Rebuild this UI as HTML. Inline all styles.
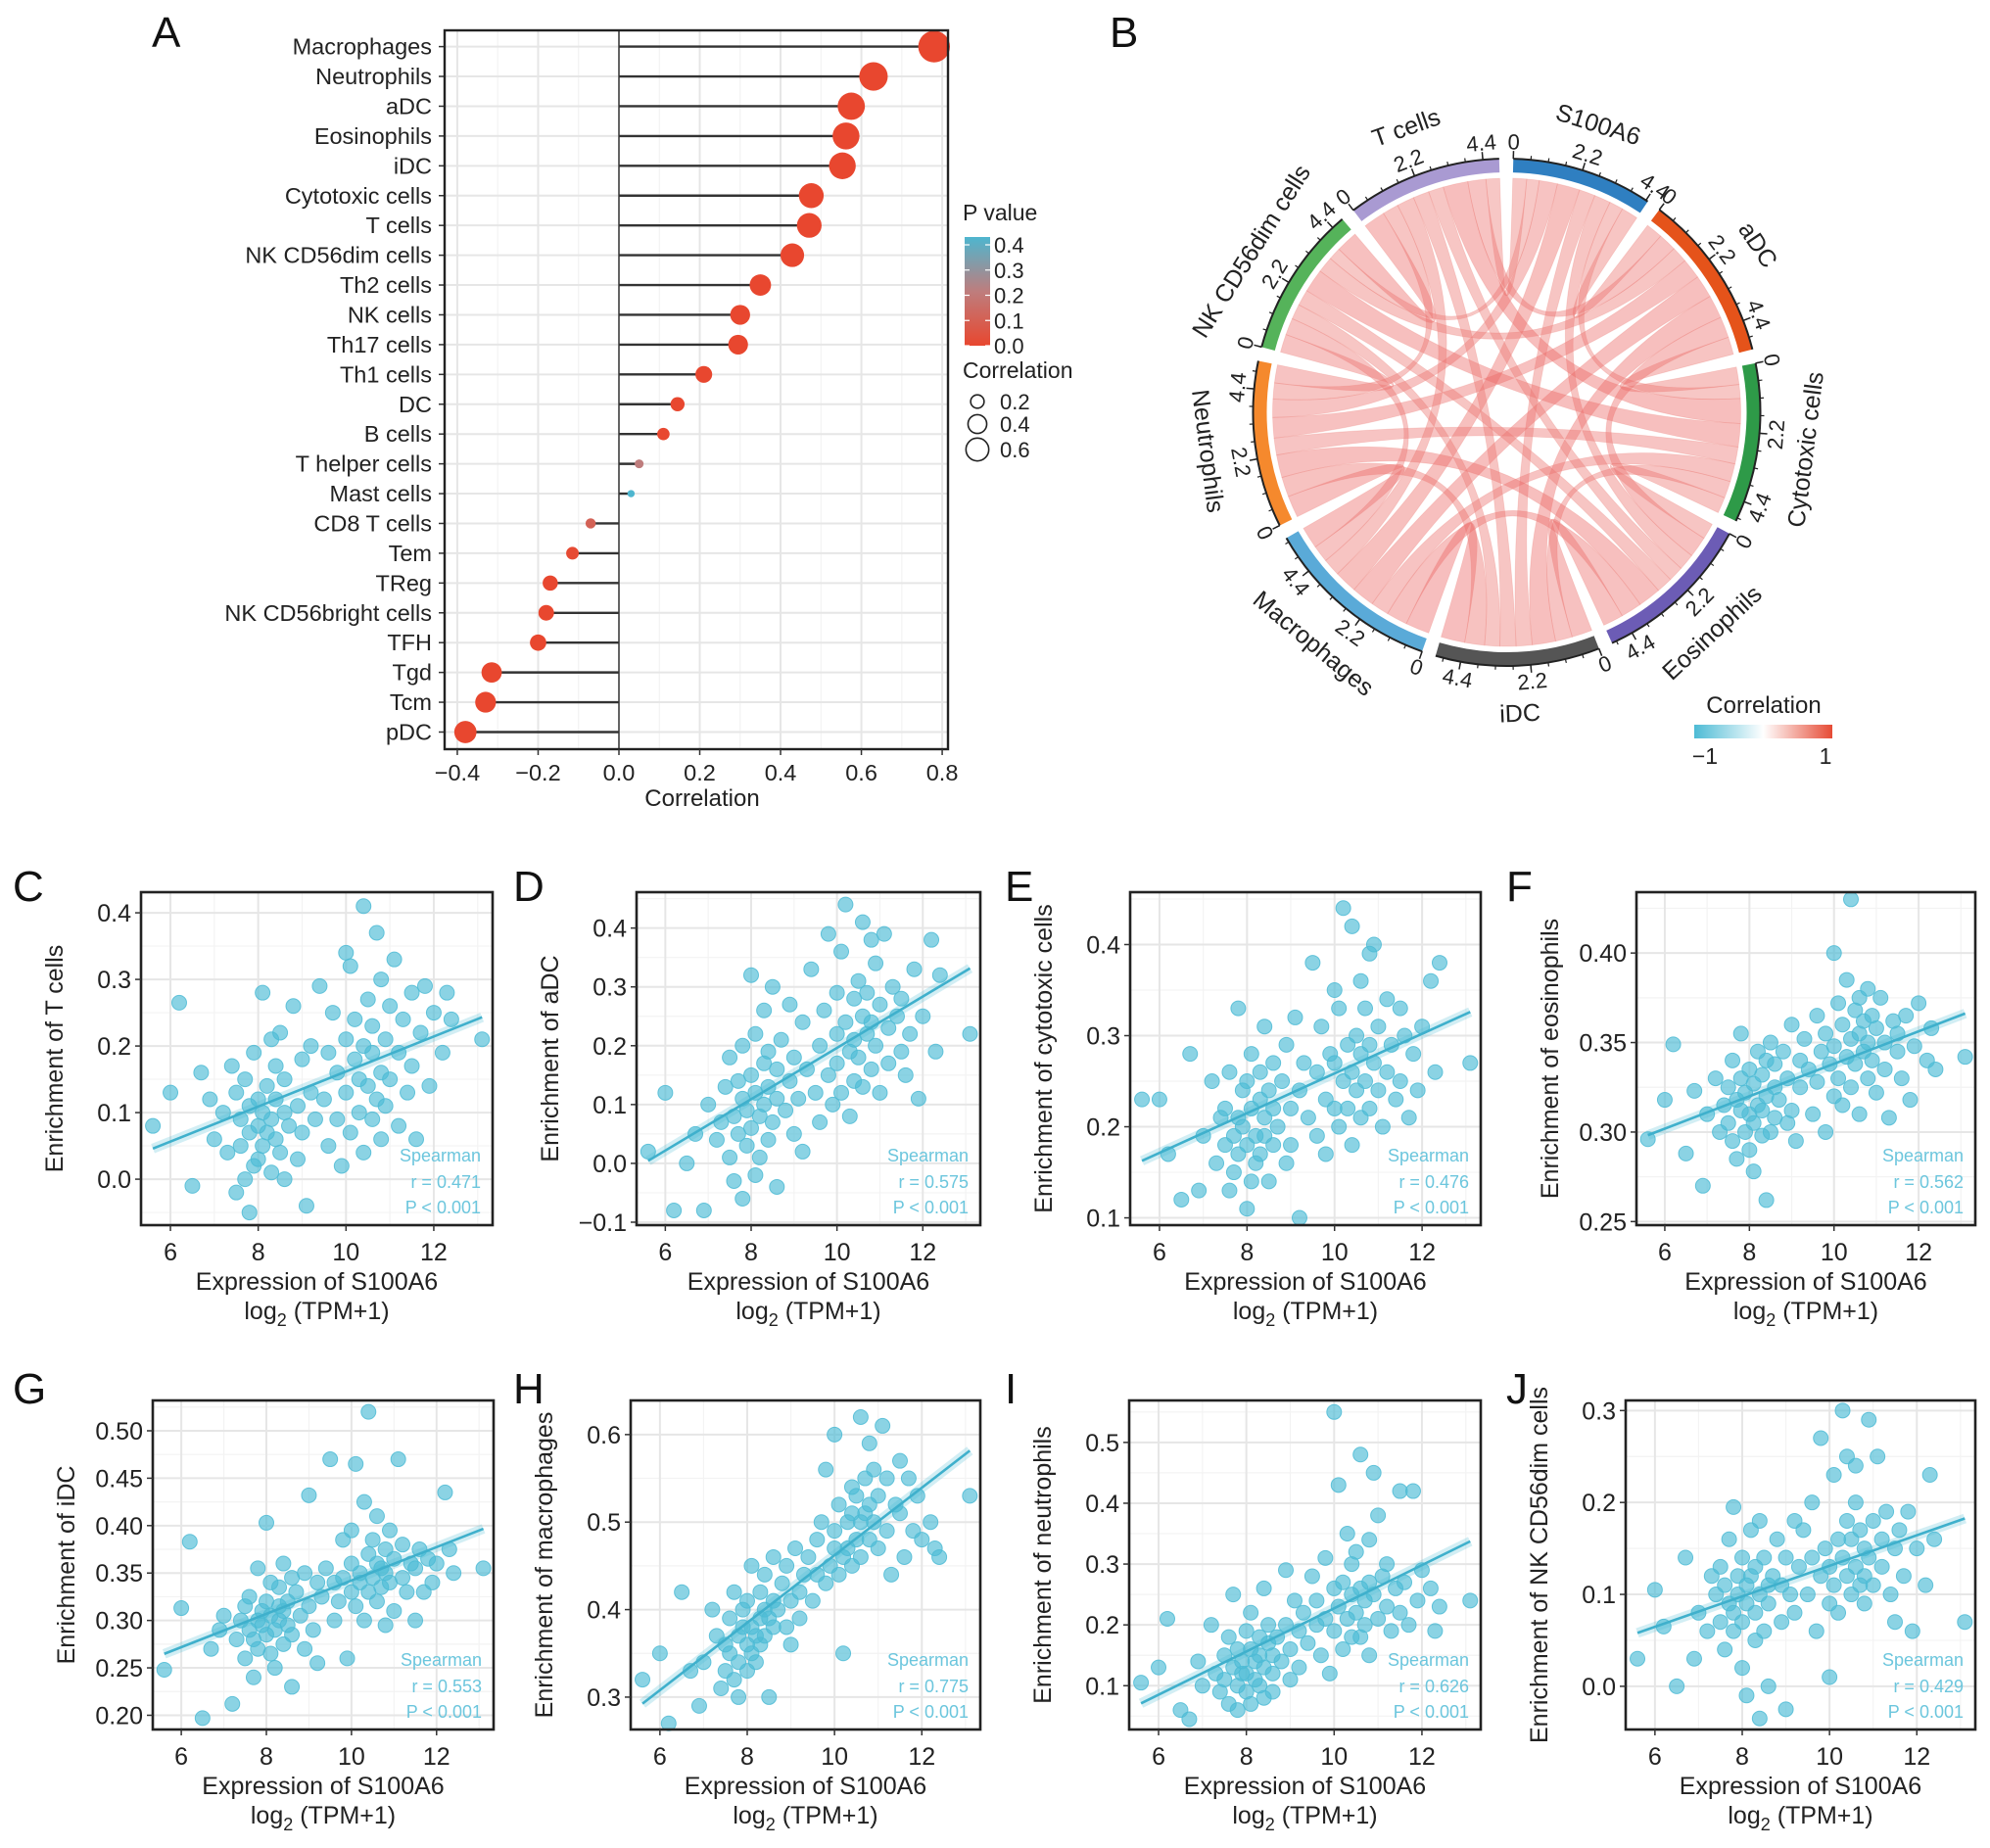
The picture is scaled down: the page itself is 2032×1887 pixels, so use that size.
<!DOCTYPE html>
<html><head><meta charset="utf-8"><style>
html,body{margin:0;padding:0;background:#fff;}
svg{display:block;font-family:"Liberation Sans",Arial,sans-serif;}
</style></head><body>
<svg id="fig" width="2032" height="1887" viewBox="0 0 2032 1887" xmlns="http://www.w3.org/2000/svg">
<rect x="0" y="0" width="2032" height="1887" fill="#fff"/>
<text x="155" y="48" font-size="44" fill="#111">A</text>
<text x="1133" y="48" font-size="44" fill="#111">B</text>
<g id="panelA"></g>
<g id="panelB"></g>
<g id="scatters"></g>
</svg>
<script>
// ===== Panel A data =====
const cellTypes = ["Macrophages","Neutrophils","aDC","Eosinophils","iDC","Cytotoxic cells","T cells","NK CD56dim cells","Th2 cells","NK cells","Th17 cells","Th1 cells","DC","B cells","T helper cells","Mast cells","CD8 T cells","Tem","TReg","NK CD56bright cells","TFH","Tgd","Tcm","pDC"];
const corrValues = [0.78,0.63,0.575,0.562,0.553,0.476,0.471,0.429,0.35,0.30,0.295,0.21,0.145,0.11,0.05,0.03,-0.07,-0.115,-0.17,-0.18,-0.20,-0.315,-0.33,-0.38];
const pValues = [0,0,0,0,0,0,0,0,0,0,0,0,0,0.002,0.2,0.4,0.1,0.01,0,0,0,0,0,0];
const corrTicks = [-0.4,-0.2,0.0,0.2,0.4,0.6,0.8];
const pTicks = [0.4,0.3,0.2,0.1,0.0];
const sizeLegend = [0.2,0.4,0.6];

// ===== Panel B data =====
const sectors = ["S100A6","aDC","Cytotoxic cells","Eosinophils","iDC","Macrophages","Neutrophils","NK CD56dim cells","T cells"];
const sectorColors = ["#2f7fc1","#e5531a","#2e9a48","#6c5cb5","#555555","#5aaad8","#f5892d","#55b35a","#a99ad2"];
const pairCorr = [
 0.575,0.476,0.562,0.553,0.775,0.626,0.429,0.471,
 0.60,0.72,0.80,0.78,0.70,0.55,0.62,
 0.55,0.58,0.62,0.58,0.80,0.85,
 0.70,0.72,0.78,0.55,0.52,
 0.82,0.68,0.52,0.55,
 0.75,0.58,0.60,
 0.62,0.55,
 0.75];
const sectorTicks = [0,2.2,4.4];

// ===== Scatter data =====
const exprS100A6 = [5.6,6.0,6.2,6.5,6.7,6.9,7.0,7.2,7.3,7.4, 7.5,7.5,7.6,7.6,7.7,7.7,7.8,7.8,7.8,7.9, 7.9,8.0,8.0,8.0,8.1,8.1,8.1,8.2,8.2,8.3, 8.3,8.3,8.4,8.4,8.4,8.5,8.5,8.6,8.6,8.6, 8.7,8.8,8.9,8.9,9.0,9.0,9.1,9.2,9.2,9.3, 9.4,9.5,9.6,9.6,9.7,9.8,9.8,9.9,10.0,10.0, 10.0,10.1,10.1,10.2,10.2,10.3,10.3,10.4,10.4,10.4, 10.5,10.5,10.6,10.6,10.6,10.7,10.7,10.8,10.8,10.8, 10.9,10.9,11.0,11.0,11.1,11.2,11.2,11.3,11.4,11.5, 11.5,11.6,11.7,11.8,11.9,12.0,12.2,12.3,12.4,13.1];
const enrichTcells = [0.08,0.13,0.265,-0.01,0.16,0.12,0.06,0.10,0.04,0.17, 0.13,-0.02,0.09,0.05,0.15,0.00,0.11,0.07,-0.05,0.02, 0.19,0.08,0.12,0.03,0.28,0.10,0.05,0.14,0.07,0.21, 0.01,0.09,0.17,0.06,0.12,0.04,0.22,0.10,0.00,0.15, 0.08,0.26,0.11,0.03,0.18,0.07,-0.04,0.13,0.20,0.09, 0.29,0.12,0.05,0.19,0.25,0.09,0.16,0.02,0.34,0.21, 0.13,0.32,0.07,0.18,0.24,0.10,0.15,0.41,0.04,0.20, 0.14,0.27,0.09,0.19,0.23,0.12,0.37,0.16,0.06,0.30, 0.21,0.11,0.26,0.15,0.33,0.08,0.19,0.24,0.13,0.28, 0.17,0.06,0.22,0.29,0.14,0.25,0.19,0.28,0.24,0.21];
const enrichADC = [0.02,0.12,-0.08,0.00,0.05,-0.08,0.10,0.04,0.07,0.13, 0.01,0.18,0.08,-0.03,0.14,0.05,0.11,-0.06,0.20,0.03, 0.09,0.32,0.06,0.15,-0.02,0.12,0.22,0.08,0.01,0.17, 0.10,0.26,0.04,0.13,0.19,0.07,0.30,0.11,-0.04,0.16, 0.21,0.09,0.14,0.27,0.05,0.18,0.11,0.24,0.02,0.16, 0.33,0.12,0.20,0.07,0.26,0.15,0.39,0.10,0.22,0.29, 0.17,0.36,0.12,0.24,0.44,0.19,0.08,0.28,0.21,0.14, 0.31,0.18,0.25,0.41,0.13,0.22,0.29,0.16,0.38,0.24, 0.20,0.34,0.27,0.12,0.39,0.23,0.17,0.30,0.25,0.19, 0.28,0.15,0.22,0.33,0.11,0.25,0.38,0.19,0.32,0.22];
const enrichCytotoxic = [0.23,0.23,0.17,0.12,0.28,0.13,0.19,0.25,0.16,0.21, 0.18,0.22,0.13,0.26,0.19,0.15,0.21,0.33,0.17,0.24, 0.20,0.11,0.25,0.18,0.22,0.14,0.28,0.19,0.16,0.23, 0.26,0.17,0.21,0.31,0.19,0.24,0.14,0.22,0.27,0.18, 0.20,0.25,0.16,0.29,0.22,0.18,0.32,0.24,0.10,0.27, 0.21,0.38,0.26,0.19,0.31,0.23,0.17,0.28,0.35,0.22, 0.27,0.20,0.33,0.25,0.44,0.29,0.22,0.42,0.26,0.18, 0.30,0.24,0.36,0.21,0.28,0.33,0.25,0.39,0.22,0.29, 0.27,0.40,0.24,0.31,0.20,0.34,0.26,0.29,0.23,0.33, 0.25,0.30,0.21,0.28,0.24,0.31,0.36,0.26,0.38,0.27];
const enrichEosinophils = [0.296,0.318,0.349,0.288,0.323,0.270,0.310,0.330,0.300,0.315, 0.325,0.305,0.340,0.295,0.318,0.285,0.330,0.312,0.355,0.300, 0.322,0.290,0.335,0.310,0.278,0.327,0.305,0.345,0.315,0.298, 0.332,0.312,0.262,0.340,0.320,0.300,0.350,0.325,0.308,0.338, 0.318,0.345,0.305,0.330,0.360,0.312,0.295,0.340,0.325,0.352, 0.335,0.310,0.365,0.328,0.345,0.300,0.355,0.338,0.400,0.320, 0.348,0.372,0.330,0.360,0.315,0.385,0.342,0.352,0.430,0.325, 0.368,0.338,0.355,0.310,0.375,0.345,0.362,0.330,0.380,0.350, 0.340,0.365,0.322,0.358,0.375,0.335,0.350,0.308,0.362,0.345, 0.355,0.330,0.365,0.318,0.348,0.372,0.340,0.358,0.335,0.342];
const enrichIDC = [0.248,0.313,0.383,0.197,0.270,0.290,0.305,0.212,0.280,0.300, 0.260,0.315,0.290,0.325,0.280,0.240,0.300,0.355,0.270,0.310, 0.295,0.403,0.285,0.320,0.265,0.305,0.340,0.290,0.250,0.315, 0.300,0.335,0.275,0.310,0.360,0.295,0.320,0.230,0.345,0.285, 0.330,0.305,0.350,0.270,0.432,0.315,0.290,0.340,0.255,0.325, 0.355,0.470,0.300,0.340,0.320,0.385,0.345,0.260,0.330,0.395, 0.360,0.315,0.465,0.340,0.350,0.300,0.425,0.370,0.330,0.520, 0.345,0.385,0.320,0.360,0.410,0.335,0.355,0.295,0.375,0.350, 0.340,0.395,0.365,0.310,0.470,0.345,0.380,0.330,0.360,0.300, 0.355,0.375,0.330,0.365,0.340,0.360,0.435,0.375,0.350,0.355];
const enrichMacrophages = [0.32,0.35,0.27,0.42,0.33,0.29,0.34,0.40,0.37,0.31, 0.36,0.33,0.39,0.35,0.42,0.32,0.37,0.34,0.30,0.38, 0.40,0.36,0.33,0.41,0.38,0.35,0.45,0.37,0.34,0.39, 0.42,0.36,0.40,0.37,0.44,0.39,0.30,0.41,0.38,0.46, 0.40,0.43,0.38,0.45,0.41,0.36,0.47,0.42,0.39,0.44, 0.46,0.41,0.48,0.44,0.50,0.43,0.56,0.45,0.60,0.47, 0.49,0.44,0.52,0.46,0.35,0.50,0.47,0.54,0.45,0.51, 0.53,0.48,0.50,0.62,0.46,0.55,0.51,0.59,0.48,0.52, 0.50,0.56,0.47,0.53,0.61,0.49,0.55,0.44,0.52,0.57, 0.51,0.46,0.55,0.49,0.53,0.48,0.50,0.47,0.46,0.53];
const enrichNeutrophils = [0.105,0.13,0.21,0.06,0.045,0.14,0.10,0.20,0.12,0.09, 0.15,0.11,0.18,0.07,0.13,0.25,0.10,0.16,0.06,0.12, 0.14,0.09,0.19,0.12,0.07,0.16,0.22,0.11,0.14,0.18, 0.10,0.15,0.26,0.13,0.08,0.17,0.20,0.12,0.15,0.09, 0.18,0.14,0.29,0.20,0.11,0.16,0.24,0.13,0.19,0.22, 0.17,0.28,0.20,0.24,0.15,0.31,0.21,0.12,0.55,0.26, 0.19,0.43,0.23,0.16,0.27,0.21,0.35,0.18,0.25,0.30, 0.22,0.32,0.18,0.26,0.48,0.24,0.20,0.34,0.27,0.15, 0.25,0.45,0.21,0.38,0.28,0.23,0.30,0.19,0.26,0.42, 0.22,0.27,0.20,0.42,0.24,0.29,0.26,0.19,0.23,0.24];
const enrichNKdim = [0.03,0.105,0.065,0.00,0.14,0.03,0.08,0.06,0.12,0.10, 0.07,0.13,0.04,0.11,0.09,0.16,0.06,0.195,0.08,0.12, 0.10,0.02,0.14,0.07,0.11,-0.01,0.09,0.17,0.12,0.05, 0.13,0.08,0.18,0.10,-0.035,0.06,0.14,0.11,0.00,0.09, 0.12,0.16,0.07,0.11,-0.025,0.14,0.10,0.18,0.08,0.13, 0.17,0.10,0.14,0.20,0.06,0.12,0.27,0.15,0.09,0.01, 0.13,0.23,0.11,0.16,0.08,0.30,0.14,0.12,0.25,0.18, 0.10,0.16,0.20,0.13,0.24,0.11,0.17,0.09,0.15,0.12, 0.14,0.29,0.18,0.11,0.25,0.16,0.13,0.19,0.10,0.15, 0.07,0.17,0.12,0.19,0.06,0.15,0.11,0.23,0.16,0.07];
const spearmanR = ["0.471","0.575","0.476","0.562","0.553","0.775","0.626","0.429"];
const xTicksScatter = [6,8,10,12];

const NS = "http://www.w3.org/2000/svg";
function mk(parent, tag, attrs, txt){
  const e = document.createElementNS(NS, tag);
  for (const k in attrs) e.setAttribute(k, attrs[k]);
  if (txt !== undefined) e.textContent = txt;
  parent.appendChild(e);
  return e;
}
function fmtMinus(v, d){ const s = Math.abs(v).toFixed(d); return (v < -1e-9 ? "\u2212" : "") + s; }

// ================= Panel A =================
(function(){
  const g = document.getElementById("panelA");
  const L = 454, R = 968, T = 31, B = 765;
  const x0 = 632, pxPerUnit = 412.6;
  const xs = v => x0 + v * pxPerUnit;
  const rowY = i => 47.6 + i * 30.43;
  const rad = c => Math.sqrt(4 + 330 * Math.abs(c));
  function pColor(p){
    const t = Math.max(0, Math.min(1, p / 0.4));
    const a = [232,71,47], m = [190,125,125], b = [78,182,207];
    let c;
    if (t < 0.5){ const u = t/0.5; c = a.map((v,k)=>Math.round(v+(m[k]-v)*u)); }
    else { const u = (t-0.5)/0.5; c = m.map((v,k)=>Math.round(v+(b[k]-v)*u)); }
    return "rgb(" + c.join(",") + ")";
  }
  mk(g, "rect", {x:L, y:T, width:R-L, height:B-T, fill:"#fff"});
  for (let v = -0.3; v <= 0.75; v += 0.2){
    const gl = mk(g, "line", {x1:xs(v), x2:xs(v), y1:T, y2:B, stroke:"#f3f3f3", "stroke-width":1.2});
    
    
  }
  corrTicks.forEach(v => {
    const gl = mk(g, "line", {x1:xs(v), x2:xs(v), y1:T, y2:B, stroke:"#e6e6e6", "stroke-width":2});
    
    
  });
  cellTypes.forEach((n,i) => {
    const gl = mk(g, "line", {x1:L, x2:R, y1:rowY(i), y2:rowY(i), stroke:"#e6e6e6", "stroke-width":2});
    
    
  });
  mk(g, "line", {x1:xs(0), x2:xs(0), y1:T, y2:B, stroke:"#444", "stroke-width":1.6});
  cellTypes.forEach((n,i) => {
    const c = corrValues[i], y = rowY(i);
    const seg = mk(g, "line", {x1:xs(0), x2:xs(c), y1:y, y2:y, stroke:"#333", "stroke-width":2.4});
    
    
    const dot = mk(g, "circle", {cx:xs(c), cy:y, r:rad(c), fill:pColor(pValues[i])});
    
    
    const lab = mk(g, "text", {x:L-13, y:y+8, "text-anchor":"end", "font-size":23.5, fill:"#222"}, n);
    
    
    mk(g, "line", {x1:L-6, x2:L, y1:y, y2:y, stroke:"#333", "stroke-width":1.5});
  });
  mk(g, "rect", {x:L, y:T, width:R-L, height:B-T, fill:"none", stroke:"#222", "stroke-width":2.4});
  corrTicks.forEach(v => {
    mk(g, "line", {x1:xs(v), x2:xs(v), y1:B, y2:B+6, stroke:"#333", "stroke-width":1.5});
    const t = mk(g, "text", {x:xs(v), y:B+32, "text-anchor":"middle", "font-size":23.5, fill:"#222"}, fmtMinus(v,1));
    
    
  });
  const xt = mk(g, "text", {x:717, y:823, "text-anchor":"middle", "font-size":24, fill:"#222"}, "Correlation");
  
  

  const lt = mk(g, "text", {x:983, y:225, "font-size":23, fill:"#222"}, "P value");
  
  
  const defs = mk(g, "defs", {});
  const gr = mk(defs, "linearGradient", {id:"pgrad", x1:0, y1:1, x2:0, y2:0});
  mk(gr, "stop", {offset:"0", "stop-color":"rgb(232,71,47)"});
  mk(gr, "stop", {offset:"0.5", "stop-color":"rgb(190,125,125)"});
  mk(gr, "stop", {offset:"1", "stop-color":"rgb(78,182,207)"});
  const cb = mk(g, "rect", {x:985, y:242, width:26, height:111, fill:"url(#pgrad)"});
  
  
  pTicks.forEach(p => {
    const y = 353 - (p/0.4)*103;
    mk(g, "line", {x1:985, x2:990, y1:y, y2:y, stroke:"#fff", "stroke-width":1.2});
    mk(g, "line", {x1:1006, x2:1011, y1:y, y2:y, stroke:"#fff", "stroke-width":1.2});
    const t = mk(g, "text", {x:1015, y:y+8, "font-size":22, fill:"#222"}, p.toFixed(1));
    
    
  });
  const ct = mk(g, "text", {x:983, y:386, "font-size":23, fill:"#222"}, "Correlation");
  
  
  sizeLegend.forEach((c,k) => {
    const y = [410, 433, 459][k];
    const circ = mk(g, "circle", {cx:998, cy:y, r:rad(c)*0.82, fill:"none", stroke:"#222", "stroke-width":1.6});
    
    
    const t = mk(g, "text", {x:1021, y:y+8, "font-size":22, fill:"#222"}, c.toFixed(1));
    
    
  });
})();

// ================= Panel B: chord =================
(function(){
  const g = document.getElementById("panelB");
  const cx = 1538.5, cy = 421;
  const rOut = 259, rIn = 245, rChord = 239;
  const n = sectors.length;
  const M = Array.from({length:n}, () => new Array(n).fill(0));
  let k = 0;
  for (let i = 0; i < n; i++) for (let j = i+1; j < n; j++){ M[i][j] = M[j][i] = pairCorr[k++]; }
  const totals = M.map(r => r.reduce((a,b)=>a+b,0));
  const gapDeg = 3.2;
  const sumT = totals.reduce((a,b)=>a+b,0);
  const dpu = (360 - gapDeg*n) / sumT;
  const starts = []; let a = 1.5;
  for (let i = 0; i < n; i++){ starts.push(a); a += totals[i]*dpu + gapDeg; }
  const pt = (deg, r) => { const t = deg*Math.PI/180; return [cx + r*Math.sin(t), cy - r*Math.cos(t)]; };
  const slot = {};
  for (let i = 0; i < n; i++){
    let pos = starts[i];
    for (let s = 1; s < n; s++){
      const j = (i - s + n) % n;
      const w = M[i][j]*dpu;
      slot[i+"_"+j] = [pos, pos + w];
      pos += w;
    }
  }
  const cg = mk(g, "g", {});
  for (let i = 0; i < n; i++) for (let j = i+1; j < n; j++){
    const [a1,a2] = slot[i+"_"+j], [b1,b2] = slot[j+"_"+i];
    const p1 = pt(a1,rChord), p2 = pt(a2,rChord), q1 = pt(b1,rChord), q2 = pt(b2,rChord);
    const d = `M${p1[0]},${p1[1]} A${rChord},${rChord} 0 0 1 ${p2[0]},${p2[1]} Q${cx},${cy} ${q1[0]},${q1[1]} A${rChord},${rChord} 0 0 1 ${q2[0]},${q2[1]} Q${cx},${cy} ${p1[0]},${p1[1]} Z`;
    const v = M[i][j];
    const ribbon = mk(cg, "path", {d:d, fill:"rgb(236,"+Math.round(150-60*v)+","+Math.round(140-50*v)+")", "fill-opacity":0.42, stroke:"rgb(236,120,110)", "stroke-opacity":0.25, "stroke-width":0.8});
    
    
  }
  function arcBand(s, e, r1, r2){
    const A = pt(s,r2), B = pt(e,r2), C = pt(e,r1), D = pt(s,r1);
    const large = (e - s) > 180 ? 1 : 0;
    return `M${A[0]},${A[1]} A${r2},${r2} 0 ${large} 1 ${B[0]},${B[1]} L${C[0]},${C[1]} A${r1},${r1} 0 ${large} 0 ${D[0]},${D[1]} Z`;
  }
  function rotFor(deg){ const m = ((deg % 360) + 360) % 360; return (m > 90 && m < 270) ? m - 180 : m; }
  for (let i = 0; i < n; i++){
    const s = starts[i], e = s + totals[i]*dpu;
    const band = mk(g, "path", {d:arcBand(s,e,rIn,rOut), fill:sectorColors[i]});
    
    
    const A = pt(s,rOut), B = pt(e,rOut);
    mk(g, "path", {d:`M${A[0]},${A[1]} A${rOut},${rOut} 0 0 1 ${B[0]},${B[1]}`, fill:"none", stroke:"#222", "stroke-width":2});
    for (let v = 0; v <= totals[i] + 1e-6; v += 0.55){
      const ang = s + v*dpu; const p = pt(ang,rOut), q = pt(ang,rOut+4);
      mk(g, "line", {x1:p[0], y1:p[1], x2:q[0], y2:q[1], stroke:"#222", "stroke-width":1.2});
    }
    sectorTicks.forEach(v => {
      const ang = s + v*dpu;
      const p = pt(ang,rOut), q = pt(ang,rOut+8);
      mk(g, "line", {x1:p[0], y1:p[1], x2:q[0], y2:q[1], stroke:"#222", "stroke-width":1.5});
      const tp = pt(ang, 276);
      const t = mk(g, "text", {x:tp[0], y:tp[1], "text-anchor":"middle", "dominant-baseline":"central", "font-size":22, fill:"#222", transform:`rotate(${rotFor(ang)} ${tp[0]} ${tp[1]})`}, String(v));
      
      
    });
    const mid = (s + e)/2; const lp = pt(mid, 308);
    const lab = mk(g, "text", {x:lp[0], y:lp[1], "text-anchor":"middle", "dominant-baseline":"central", "font-size":25, fill:"#222", transform:`rotate(${rotFor(mid)} ${lp[0]} ${lp[1]})`}, sectors[i]);
    
    
  }
  const defs = mk(g, "defs", {});
  const gr = mk(defs, "linearGradient", {id:"cgrad", x1:0, y1:0, x2:1, y2:0});
  mk(gr, "stop", {offset:"0", "stop-color":"#4dbbd5"});
  mk(gr, "stop", {offset:"0.5", "stop-color":"#ffffff"});
  mk(gr, "stop", {offset:"1", "stop-color":"#e64b35"});
  const lt = mk(g, "text", {x:1801, y:728, "text-anchor":"middle", "font-size":24, fill:"#222"}, "Correlation");
  
  
  const bar = mk(g, "rect", {x:1730, y:740, width:141, height:14, fill:"url(#cgrad)"});
  
  
  mk(g, "text", {x:1741, y:780, "text-anchor":"middle", "font-size":23, fill:"#222"}, "\u22121");
  mk(g, "text", {x:1864, y:780, "text-anchor":"middle", "font-size":23, fill:"#222"}, "1");
})();

// ================= Scatter panels =================
(function(){
  const root = document.getElementById("scatters");
  const cfg = [
    {L:"C", lx:13, ly:920, box:[144,911,503,1251], ys:enrichTcells, ylab:"Enrichment of T cells", ylim:[-0.069,0.431], yt:[0,0.1,0.2,0.3,0.4], step:0.1, dec:1},
    {L:"D", lx:524, ly:920, box:[650,911,1001,1251], ys:enrichADC, ylab:"Enrichment of aDC", ylim:[-0.105,0.461], yt:[-0.1,0,0.1,0.2,0.3,0.4], step:0.1, dec:1},
    {L:"E", lx:1026, ly:920, box:[1154,911,1512,1251], ys:enrichCytotoxic, ylab:"Enrichment of cytotoxic cells", ylim:[0.092,0.4575], yt:[0.1,0.2,0.3,0.4], step:0.1, dec:1},
    {L:"F", lx:1538, ly:920, box:[1671,911,2017,1251], ys:enrichEosinophils, ylab:"Enrichment of eosinophils", ylim:[0.248,0.434], yt:[0.25,0.30,0.35,0.40], step:0.05, dec:2},
    {L:"G", lx:13, ly:1433, box:[156,1430,504,1766], ys:enrichIDC, ylab:"Enrichment of iDC", ylim:[0.185,0.532], yt:[0.20,0.25,0.30,0.35,0.40,0.45,0.50], step:0.05, dec:2},
    {L:"H", lx:524, ly:1433, box:[644,1430,1001,1766], ys:enrichMacrophages, ylab:"Enrichment of macrophages", ylim:[0.263,0.639], yt:[0.3,0.4,0.5,0.6], step:0.1, dec:1},
    {L:"I", lx:1026, ly:1433, box:[1153,1430,1512,1766], ys:enrichNeutrophils, ylab:"Enrichment of neutrophils", ylim:[0.028,0.569], yt:[0.1,0.2,0.3,0.4,0.5], step:0.1, dec:1},
    {L:"J", lx:1538, ly:1433, box:[1660,1430,2017,1766], ys:enrichNKdim, ylab:"Enrichment of NK CD56dim cells", ylim:[-0.047,0.311], yt:[0,0.1,0.2,0.3], step:0.1, dec:1}
  ];
  const xlim = [5.33, 13.34];
  cfg.forEach((c, pi) => {
    const g = mk(root, "g", {});
    
    
    const [L,T,R,B] = c.box;
    const X = v => L + (v - xlim[0])/(xlim[1]-xlim[0])*(R-L);
    const Y = v => B - (v - c.ylim[0])/(c.ylim[1]-c.ylim[0])*(B-T);
    const letter = mk(g, "text", {x:c.lx, y:c.ly, "font-size":44, fill:"#111"}, c.L);
    
    
    mk(g, "rect", {x:L, y:T, width:R-L, height:B-T, fill:"#fff"});
    [7,9,11,13].forEach(v => { if (v>xlim[0] && v<xlim[1]) mk(g, "line", {x1:X(v), x2:X(v), y1:T, y2:B, stroke:"#f3f3f3", "stroke-width":1.2}); });
    for (let v = c.yt[0] - c.step/2; v < c.ylim[1]; v += c.step){ if (v > c.ylim[0]) mk(g, "line", {x1:L, x2:R, y1:Y(v), y2:Y(v), stroke:"#f3f3f3", "stroke-width":1.2}); }
    xTicksScatter.forEach(v => mk(g, "line", {x1:X(v), x2:X(v), y1:T, y2:B, stroke:"#e6e6e6", "stroke-width":2}));
    c.yt.forEach(v => mk(g, "line", {x1:L, x2:R, y1:Y(v), y2:Y(v), stroke:"#e6e6e6", "stroke-width":2}));
    exprS100A6.forEach((xv, i) => {
      const p = mk(g, "circle", {cx:X(xv), cy:Y(c.ys[i]), r:7.5, fill:"#4dbbd5", "fill-opacity":0.65, stroke:"#4dbbd5", "stroke-opacity":0.85, "stroke-width":1});
      
      
    });
    const nP = exprS100A6.length;
    const mx = exprS100A6.reduce((a,b)=>a+b,0)/nP, my = c.ys.reduce((a,b)=>a+b,0)/nP;
    let sxy = 0, sxx = 0;
    for (let i = 0; i < nP; i++){ sxy += (exprS100A6[i]-mx)*(c.ys[i]-my); sxx += (exprS100A6[i]-mx)**2; }
    const slope = sxy/sxx, icpt = my - slope*mx;
    const xa = Math.min(...exprS100A6), xb = Math.max(...exprS100A6);
    mk(g, "line", {x1:X(xa), y1:Y(icpt+slope*xa), x2:X(xb), y2:Y(icpt+slope*xb), stroke:"#4dbbd5", "stroke-opacity":0.25, "stroke-width":10});
    const fit = mk(g, "line", {x1:X(xa), y1:Y(icpt+slope*xa), x2:X(xb), y2:Y(icpt+slope*xb), stroke:"#3fb0cc", "stroke-width":2.6});
    
    
    const st = mk(g, "text", {x:R-12, y:B-65, "text-anchor":"end", "font-size":18, fill:"#6cc6dd"}, "Spearman");
    
    
    const rt = mk(g, "text", {x:R-12, y:B-38, "text-anchor":"end", "font-size":18, fill:"#6cc6dd"}, "r = " + spearmanR[pi]);
    
    
    const pt = mk(g, "text", {x:R-12, y:B-12, "text-anchor":"end", "font-size":18, fill:"#6cc6dd"}, "P < 0.001");
    
    
    mk(g, "rect", {x:L, y:T, width:R-L, height:B-T, fill:"none", stroke:"#222", "stroke-width":2.6});
    xTicksScatter.forEach(v => {
      mk(g, "line", {x1:X(v), x2:X(v), y1:B, y2:B+6, stroke:"#333", "stroke-width":1.5});
      const t = mk(g, "text", {x:X(v), y:B+36, "text-anchor":"middle", "font-size":25, fill:"#222"}, String(v));
      
      
    });
    c.yt.forEach(v => {
      mk(g, "line", {x1:L-6, x2:L, y1:Y(v), y2:Y(v), stroke:"#333", "stroke-width":1.5});
      const t = mk(g, "text", {x:L-10, y:Y(v)+9, "text-anchor":"end", "font-size":25, fill:"#222"}, fmtMinus(v, c.dec));
      
      
    });
    const cxm = (L+R)/2;
    const xt1 = mk(g, "text", {x:cxm, y:B+66, "text-anchor":"middle", "font-size":25, fill:"#222"}, "Expression of S100A6");
    
    
    const xt2 = mk(g, "text", {x:cxm, y:B+96, "text-anchor":"middle", "font-size":25, fill:"#222"});
    
    
    mk(xt2, "tspan", {}, "log");
    mk(xt2, "tspan", {"font-size":18, dy:7}, "2");
    mk(xt2, "tspan", {dy:-7}, " (TPM+1)");
    const ym = (T+B)/2, yx = L - 80;
    const yt = mk(g, "text", {x:yx, y:ym, "text-anchor":"middle", "font-size":25, fill:"#222", transform:`rotate(-90 ${yx} ${ym})`}, c.ylab);
    
    
  });
})();
</script>
</body></html>
